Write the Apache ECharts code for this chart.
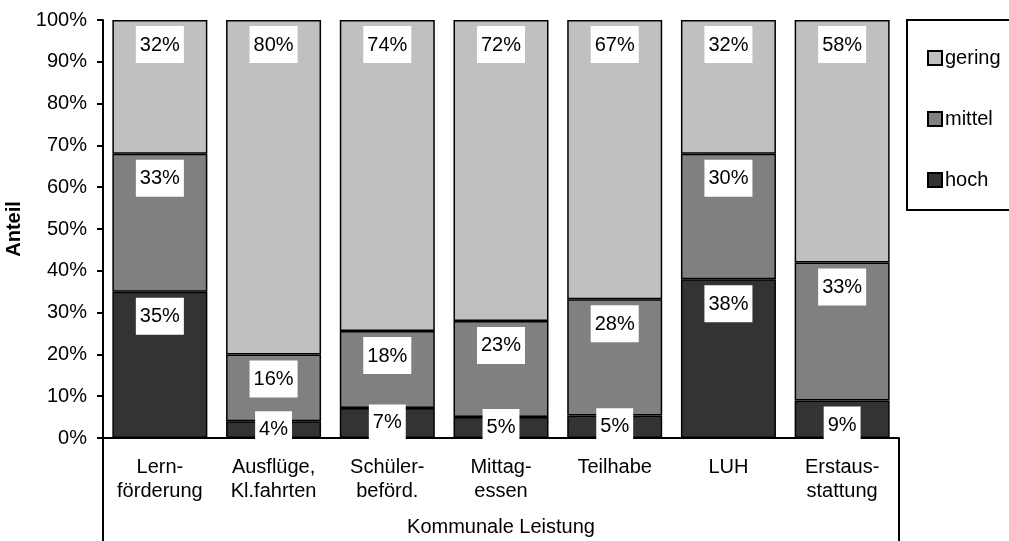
<!DOCTYPE html>
<html>
<head>
<meta charset="utf-8">
<script src="https://cdn.jsdelivr.net/npm/echarts@6/dist/echarts.min.js"></script>
<style>
  html, body { margin: 0; padding: 0; background: #fff; }
  #chart { width: 1009px; height: 541px; }
</style>
</head>
<body>
<div id="chart"></div>
<script>
  // Kategorien und Anteile (in %)
  var categories = ['Lern-\nförderung', 'Ausflüge,\nKl.fahrten', 'Schüler-\nbeförd.', 'Mittag-\nessen', 'Teilhabe', 'LUH', 'Erstaus-\nstattung']
  var hoch = [35, 4, 7.2, 5, 5.4, 38, 9]
  var mittel = [33, 16, 18.4, 23, 27.8, 30, 33]
  var gering = [32, 80, 74.4, 72, 66.8, 32, 58]
  var yTicks = [0, 10, 20, 30, 40, 50, 60, 70, 80, 90, 100]

  var font = "'Liberation Sans', Arial, sans-serif"

  function makeData(values) {
    return values.map(function (v) {
      return {
        value: v,
        label: { position: v < 8 ? 'inside' : 'insideTop' }
      }
    })
  }

  function makeSeries(name, values, color) {
    return {
      name: name,
      type: 'bar',
      stack: 'anteil',
      barWidth: 95,
      data: makeData(values),
      itemStyle: {
        color: color,
        borderColor: '#000',
        borderWidth: 1.5
      },
      label: {
        show: true,
        distance: 6,
        formatter: function (p) { return Math.round(p.value) + '%' },
        color: '#000',
        fontFamily: font,
        fontSize: 20,
        lineHeight: 20,
        backgroundColor: '#fff',
        padding: [9, 4, 8, 4]
      },
      emphasis: { disabled: true }
    }
  }

  var myChart = echarts.init(document.getElementById('chart'))
  var options = {
    animation: false,
    textStyle: { fontFamily: font },
    grid: { left: 103, right: 110, top: 20, bottom: 103, containLabel: false, outerBoundsMode: 'none' },
    legend: {
      orient: 'vertical',
      left: 922,
      top: 43,
      itemWidth: 14,
      itemHeight: 14,
      itemGap: 41,
      icon: 'rect',
      data: ['gering', 'mittel', 'hoch'],
      itemStyle: { borderColor: '#000', borderWidth: 2 },
      textStyle: { fontFamily: font, fontSize: 20, color: '#000', padding: [0, 0, 0, -2] }
    },
    xAxis: {
      type: 'category',
      data: categories,
      name: 'Kommunale Leistung',
      nameLocation: 'middle',
      nameGap: 79,
      nameTextStyle: { fontFamily: font, fontSize: 20, color: '#000' },
      axisLine: { lineStyle: { color: '#000', width: 2 } },
      axisTick: { show: false },
      axisLabel: {
        margin: 17,
        interval: 0,
        fontFamily: font,
        fontSize: 20,
        lineHeight: 24,
        color: '#000'
      }
    },
    yAxis: {
      type: 'value',
      min: yTicks[0],
      max: yTicks[yTicks.length - 1],
      interval: 10,
      name: 'Anteil',
      nameLocation: 'middle',
      nameRotate: 90,
      nameGap: 67,
      nameTextStyle: { fontFamily: font, fontSize: 20, fontWeight: 'bold', color: '#000' },
      axisLine: { show: true, lineStyle: { color: '#000', width: 2 } },
      axisTick: { show: true, length: 6, inside: false, lineStyle: { color: '#000', width: 2 } },
      splitLine: { show: false },
      axisLabel: {
        margin: 16,
        fontFamily: font,
        fontSize: 20,
        color: '#000',
        formatter: '{value}%'
      }
    },
    graphic: [
      // Rahmen um die Kategorienbeschriftung
      { type: 'line', shape: { x1: 103, y1: 438, x2: 103, y2: 541 }, style: { stroke: '#000', lineWidth: 2 } },
      { type: 'line', shape: { x1: 899, y1: 438, x2: 899, y2: 541 }, style: { stroke: '#000', lineWidth: 2 } },
      // Legendenrahmen
      { type: 'rect', z: -1, shape: { x: 907, y: 20, width: 110, height: 190 }, style: { fill: '#fff', stroke: '#000', lineWidth: 2 } }
    ],
    series: [
      makeSeries('hoch', hoch, '#333333'),
      makeSeries('mittel', mittel, '#808080'),
      makeSeries('gering', gering, '#c0c0c0')
    ]
  }
  myChart.setOption(options)
  window.addEventListener('resize', myChart.resize)
</script>
</body>
</html>
